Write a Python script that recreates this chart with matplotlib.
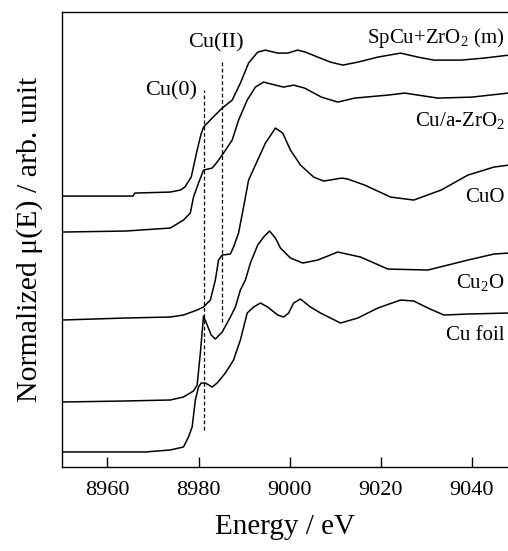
import matplotlib
matplotlib.use("Agg")
import matplotlib.pyplot as plt

plt.rcParams["font.family"] = "serif"
plt.rcParams["font.serif"] = ["Liberation Serif", "DejaVu Serif"]
plt.rcParams["mathtext.fontset"] = "custom"
plt.rcParams["mathtext.rm"] = "Liberation Serif"
plt.rcParams["mathtext.it"] = "Liberation Serif:italic"
plt.rcParams["mathtext.default"] = "regular"

# XANES spectra (Cu K-edge), offsets included
spcu_e = [8950, 8965.6, 8966, 8973.8, 8976.0, 8977, 8978.4, 8979.6, 8980.5, 8981.1,
          8983.0, 8985.2, 8987.4, 8989.2, 8991.0, 8993.0, 8994.7, 8997.4, 8999.6,
          9001.8, 9003.5, 9006.2, 9009.0, 9011.7, 9015.0, 9019.4, 9024.4, 9028.2,
          9031.7, 9037.7, 9042.7, 9048.2]
spcu_y = [2.71, 2.71, 2.74, 2.75, 2.77, 2.80, 2.90, 3.15, 3.32, 3.40,
          3.49, 3.59, 3.67, 3.84, 4.04, 4.15, 4.17, 4.14, 4.14,
          4.17, 4.15, 4.10, 4.05, 4.02, 4.05, 4.10, 4.14, 4.10,
          4.07, 4.07, 4.09, 4.12]

cua_e = [8950, 8963.9, 8973.8, 8976.7, 8978.2, 8978.9, 8980.0, 8981.1, 8983.0,
         8984.1, 8985.5, 8987.4, 8988.8, 8990.7, 8992.5, 8994.3, 8996.9, 8998.7,
         9000.9, 9003.3, 9007.0, 9010.6, 9014.3, 9021.6, 9025.3, 9032.6, 9040.1,
         9048.0]
cua_y = [2.35, 2.36, 2.39, 2.47, 2.54, 2.70, 2.84, 2.97, 2.99,
         3.05, 3.14, 3.27, 3.47, 3.67, 3.80, 3.85, 3.82, 3.80,
         3.82, 3.79, 3.70, 3.65, 3.69, 3.72, 3.74, 3.69, 3.70,
         3.74]

cuo_e = [8950, 8963.9, 8973.8, 8976.7, 8979.7, 8981.1, 8982.6, 8983.7, 8984.4,
         8985.2, 8987.0, 8987.7, 8988.8, 8989.9, 8991.0, 8993.0, 8994.7, 8996.9,
         8998.5, 9000.2, 9002.4, 9005.3, 9007.5, 9011.5, 9012.8, 9016.5, 9022.2,
         9027.3, 9033.3, 9039.2, 9044.9, 9048.2]
cuo_y = [1.47, 1.49, 1.50, 1.52, 1.57, 1.60, 1.67, 1.87, 2.07,
         2.12, 2.13, 2.20, 2.34, 2.60, 2.87, 3.07, 3.24, 3.39,
         3.34, 3.17, 3.02, 2.90, 2.86, 2.89, 2.88, 2.82, 2.70,
         2.67, 2.77, 2.92, 3.00, 3.02]

cu2o_e = [8950, 8963.9, 8973.8, 8976.7, 8978.9, 8979.7, 8980.4, 8981.1, 8981.9,
          8982.8, 8983.7, 8985.2, 8987.0, 8988.1, 8989.2, 8990.3, 8991.4, 8993.0,
          8994.3, 8995.6, 8996.9, 8998.0, 9000.2, 9002.9, 9006.2, 9010.6, 9015.6,
          9021.6, 9030.4, 9039.2, 9044.9, 9048.2]
cu2o_y = [0.65, 0.66, 0.67, 0.70, 0.76, 0.82, 1.14, 1.51, 1.42,
          1.32, 1.28, 1.35, 1.50, 1.60, 1.77, 1.87, 2.04, 2.22,
          2.30, 2.36, 2.29, 2.19, 2.09, 2.04, 2.07, 2.15, 2.10,
          1.98, 1.97, 2.07, 2.13, 2.14]

foil_e = [8950, 8968.3, 8973.8, 8976.7, 8977.8, 8978.6, 8979.3, 8980.0, 8980.6,
          8981.5, 8983.0, 8984.1, 8985.9, 8987.7, 8989.2, 8990.7, 8992.1, 8993.6,
          8995.2, 8997.4, 8998.7, 8999.8, 9000.9, 9002.4, 9004.6, 9006.8, 9009.0,
          9011.2, 9015.0, 9019.4, 9024.4, 9027.3, 9030.4, 9033.9, 9039.2, 9048.2]
foil_y = [0.15, 0.15, 0.17, 0.20, 0.30, 0.40, 0.67, 0.80, 0.84,
          0.84, 0.80, 0.84, 0.94, 1.07, 1.27, 1.54, 1.60, 1.64,
          1.60, 1.52, 1.50, 1.54, 1.64, 1.68, 1.60, 1.54, 1.49,
          1.44, 1.49, 1.59, 1.67, 1.66, 1.59, 1.52, 1.53, 1.54]

names = ["SpCu+ZrO$_2$ (m)", "Cu/a-ZrO$_2$", "CuO", "Cu$_2$O", "Cu foil"]
label_y = [4.29, 3.47, 2.70, 1.85, 1.32]

# reference edge positions (eV) and extent of the dashed markers
ref_e = [8981.1, 8985.2]
ref_top = [3.77, 4.07]
ref_bot = [0.37, 1.45]
ref_names = ["Cu(0)", "Cu(II)"]

xticks = [8960, 8980, 9000, 9020, 9040]
xtick_labels = ["8960", "8980", "9000", "9020", "9040"]

fig = plt.figure(figsize=(5.08, 5.51), dpi=100)
ax = fig.add_axes([0.122, 0.1525, 0.878, 0.8255])

for e, y in [(spcu_e, spcu_y), (cua_e, cua_y), (cuo_e, cuo_y),
             (cu2o_e, cu2o_y), (foil_e, foil_y)]:
    ax.plot(e, y, color="black", lw=1.1)

for name, ly in zip(names, label_y):
    ax.text(9047.2, ly, name, ha="right", va="center", fontsize=15)

for e0, t, b in zip(ref_e, ref_top, ref_bot):
    ax.plot([e0, e0], [b, t], color="black", lw=0.9, ls=(0, (3, 2)))

ax.text(8974.0, 3.76, ref_names[0], ha="center", va="center", fontsize=16)
ax.text(8983.9, 4.24, ref_names[1], ha="center", va="center", fontsize=16)

ax.set_xlim(8950, 9048)
ax.set_ylim(0, 4.55)
ax.set_xticks(xticks)
ax.set_xticklabels(xtick_labels)
ax.set_yticks([])
ax.tick_params(axis="x", direction="in", length=7, width=1, pad=10, labelsize=16)
ax.spines["right"].set_visible(False)
for s in ["left", "top", "bottom"]:
    ax.spines[s].set_linewidth(1.0)

ax.set_xlabel("Energy / eV", fontsize=21, labelpad=10)
ax.set_ylabel("Normalized μ(E) / arb. unit", fontsize=21.5, labelpad=14)

fig.savefig("out.png", dpi=100, facecolor="white")
